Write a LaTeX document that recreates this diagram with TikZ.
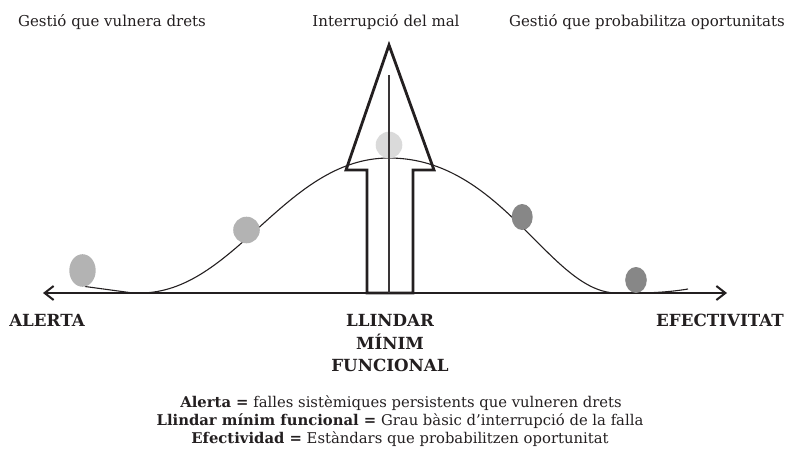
\documentclass[tikz,border=0pt]{standalone}
\usepackage{fontspec}
\setmainfont{DejaVu Serif}
\usetikzlibrary{arrows.meta}
\definecolor{ink}{HTML}{231F20}
\definecolor{ballA}{HTML}{B3B3B3}
\definecolor{ballB}{HTML}{878787}
\definecolor{ballC}{HTML}{DADADA}
\begin{document}
\begin{tikzpicture}[x=1pt,y=-1pt,
  toplabel/.style={anchor=base,inner sep=0pt,text=ink,font=\fontsize{15}{18}\selectfont},
  axislabel/.style={inner sep=0pt,text=ink,align=center,font=\bfseries\fontsize{16.7}{22.5}\selectfont},
  legendline/.style={anchor=base,inner sep=0pt,text=ink,font=\fontsize{14.8}{18}\selectfont},
  axisline/.style={draw=ink,line width=2pt,{Straight Barb[length=9pt,width=14pt]}-{Straight Barb[length=9pt,width=14pt]}},
  bell/.style={draw=ink,line width=1.1pt},
  bigarrow/.style={draw=ink,line width=2.8pt,line join=miter},
  midline/.style={draw=ink!90,line width=1.6pt}]
\useasboundingbox (0,0) rectangle (785,455);

% bell curve
\draw[bell] (85,286.5) -- (130,292.6) -- (140,293)
  .. controls (235,293) and (285,158) .. (389,158)
  .. controls (503,158) and (550,293) .. (617,293)
  .. controls (650,293.5) and (670,292) .. (688,289);

% axis
\coordinate (axL) at (43,293);
\coordinate (axR) at (727,293);
\draw[axisline] (axL) -- (axR);

% balls
\fill[ballA] (82.5,270.5) ellipse [x radius=13.2pt, y radius=16.3pt];
\fill[ballA] (246.5,230) ellipse [x radius=13.3pt, y radius=13.3pt];
\fill[ballB] (522.2,217) ellipse [x radius=10.5pt, y radius=13pt];
\fill[ballB] (636,280) ellipse [x radius=10.8pt, y radius=13pt];
\fill[ballC] (389,145) circle [radius=13.3pt];

% big arrow
\draw[bigarrow] (389,45) -- (346,170) -- (367,170) -- (367,293) -- (413,293)
  -- (413,170) -- (434,170) -- cycle;
\coordinate (mlTop) at (389,75);
\coordinate (mlBot) at (389,293);
\draw[midline] (mlTop) -- (mlBot);

% top labels
\node[toplabel] (t1) at (112,27) {Gestió que vulnera drets};
\node[toplabel] (t2) at (386,27) {Interrupció del mal};
\node[toplabel] (t3) at (647,27) {Gestió que probabilitza oportunitats};

% axis labels
\node[axislabel,anchor=base] (alerta) at (47,326) {ALERTA};
\node[axislabel,anchor=base] (efect) at (720,326) {EFECTIVITAT};
\node[axislabel,anchor=north] (llindar) at (390,314.5) {LLINDAR\\MÍNIM\\FUNCIONAL};

% legend
\node[legendline] (leg1) at (401,407) {\textbf{Alerta =} falles sistèmiques persistents que vulneren drets};
\node[legendline] (leg2) at (400,425) {\textbf{Llindar mínim funcional =} Grau bàsic d’interrupció de la falla};
\node[legendline] (leg3) at (400,443.5) {\textbf{Efectividad =} Estàndars que probabilitzen oportunitat};
\end{tikzpicture}
\end{document}
